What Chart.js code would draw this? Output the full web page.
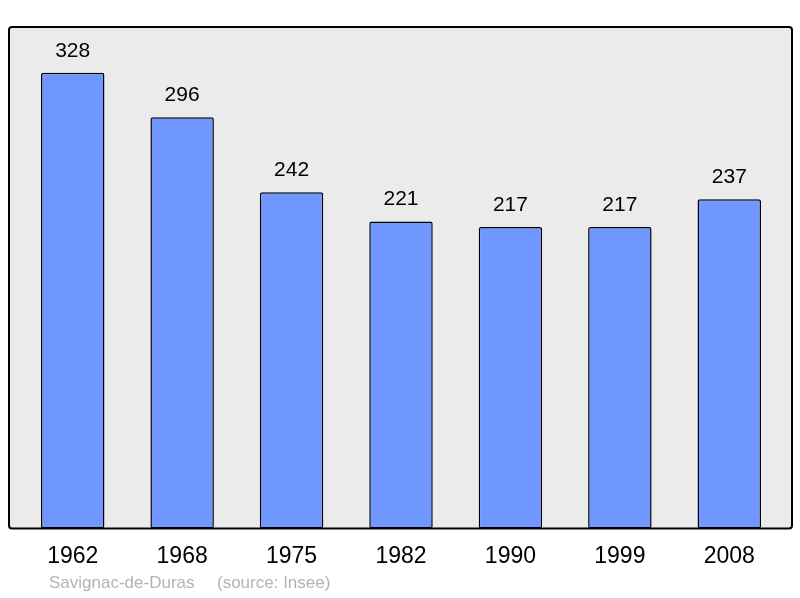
<!DOCTYPE html>
<html>
<head>
<meta charset="utf-8">
<script src="https://cdn.jsdelivr.net/npm/chart.js@4/dist/chart.umd.min.js"></script>
<style>
html,body{margin:0;padding:0;background:#fff;}
#wrap{width:800px;height:598px;}
</style>
</head>
<body>
<div id="wrap"><canvas id="c" width="800" height="598"></canvas></div>
<script>
const years = ['1962','1968','1975','1982','1990','1999','2008'];
const population = [328,296,242,221,217,217,237];
const yMax = 361;
const footerName = 'Savignac-de-Duras';
const footerSource = '(source: Insee)';

const boxPlugin = {
  id: 'box',
  beforeDatasetsDraw(chart) {
    const {ctx, chartArea: a} = chart;
    const x0 = 9, x1 = 792, y0 = a.top, y1 = a.bottom;
    ctx.save();
    ctx.beginPath();
    if (ctx.roundRect) ctx.roundRect(x0, y0, x1 - x0, y1 - y0, 3); else ctx.rect(x0, y0, x1 - x0, y1 - y0);
    ctx.fillStyle = '#ebebeb';
    ctx.fill();
    ctx.lineWidth = 2;
    ctx.strokeStyle = '#000';
    ctx.stroke();
    ctx.restore();
  },
  afterDatasetsDraw(chart) {
    const {ctx} = chart;
    const meta = chart.getDatasetMeta(0);
    ctx.save();
    ctx.font = '21px "Liberation Sans", Arial, sans-serif';
    ctx.fillStyle = '#000';
    ctx.textAlign = 'center';
    ctx.textBaseline = 'middle';
    meta.data.forEach((bar, i) => {
      ctx.fillText(String(population[i]), bar.x, bar.y - 22);
    });
    ctx.font = '17px "Liberation Sans", Arial, sans-serif';
    ctx.fillStyle = '#b3b3b3';
    ctx.textAlign = 'left';
    ctx.fillText(footerName, 49, 583);
    ctx.fillText(footerSource, 217, 583);
    ctx.restore();
  }
};

new Chart(document.getElementById('c'), {
  type: 'bar',
  data: {
    labels: years,
    datasets: [{
      data: population,
      backgroundColor: '#7096ff',
      borderColor: '#000',
      borderWidth: 1.5,
      borderRadius: 2,
      borderSkipped: false,
      categoryPercentage: 1,
      barPercentage: 0.58
    }]
  },
  options: {
    responsive: false,
    animation: false,
    devicePixelRatio: 1,
    layout: {padding: {left: 18, right: 16, top: 27, bottom: 13}},
    plugins: {legend: {display: false}, tooltip: {enabled: false}},
    scales: {
      x: {
        grid: {display: false, drawTicks: false},
        border: {display: false},
        ticks: {color: '#000', padding: 14.5, font: {size: 23, family: '"Liberation Sans", Arial, sans-serif'}}
      },
      y: {display: false, min: 0, max: yMax}
    }
  },
  plugins: [boxPlugin]
});
</script>
</body>
</html>
